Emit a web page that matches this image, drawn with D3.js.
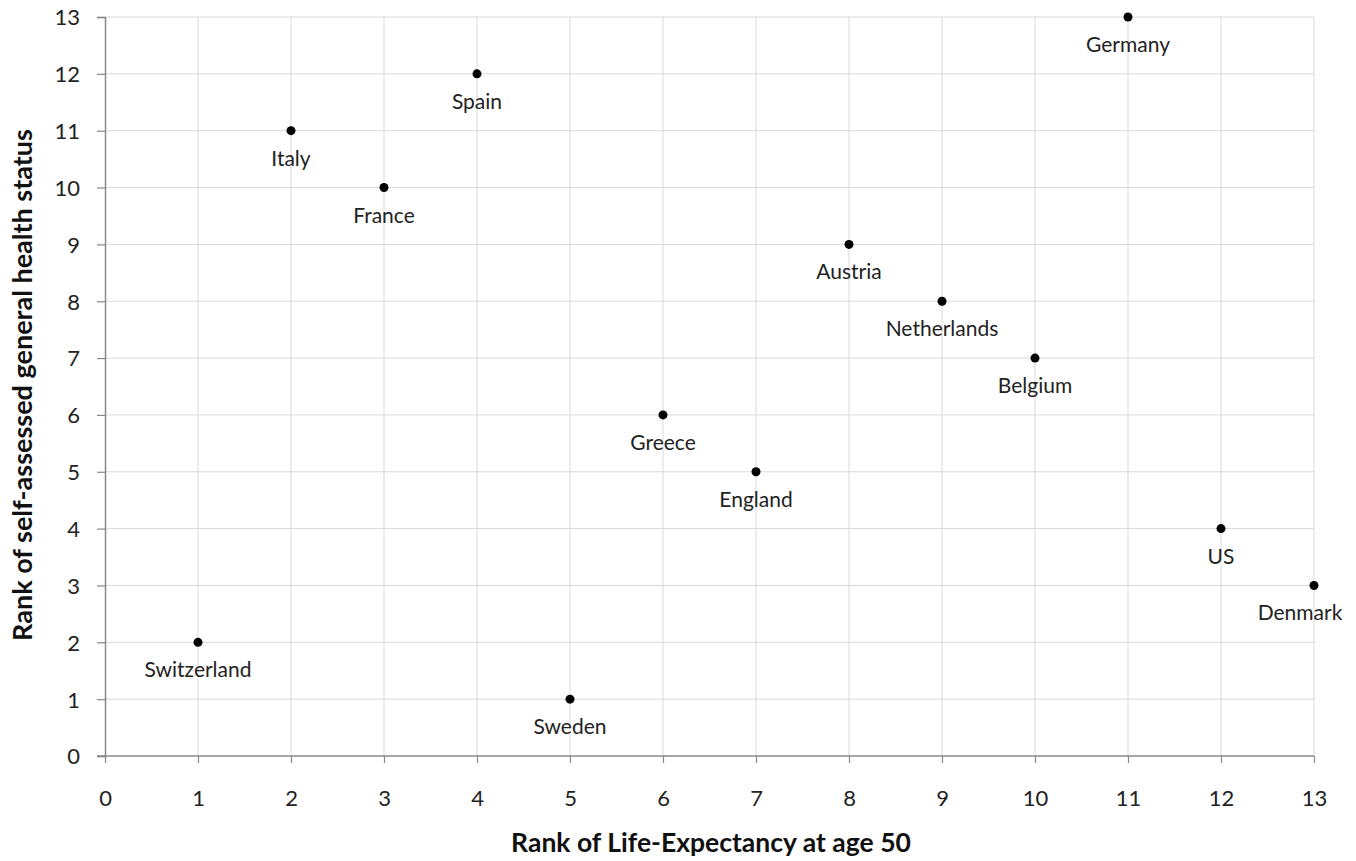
<!DOCTYPE html>
<html><head><meta charset="utf-8">
<script src="https://cdn.jsdelivr.net/npm/d3@7"></script>
<style>body{margin:0;background:#fff;} svg{display:block;}</style>
</head><body>
<svg id="c" width="1356" height="861"></svg>
<script>
const countries = ["Switzerland","Italy","France","Spain","Sweden","Greece","England","Austria","Netherlands","Belgium","Germany","US","Denmark"];
const lifeExpRank = [1,2,3,4,5,6,7,8,9,10,11,12,13];
const healthRank = [2,11,10,12,1,6,5,9,8,7,13,4,3];
const labelShift = [0,0,0,0,0,0,0,0,0,0,0,0,-14];
const ticks = d3.range(0,14);
const xTitle = "Rank of Life-Expectancy at age 50";
const yTitle = "Rank of self-assessed general health status";

const svg = d3.select("#c");
const font = "Lato, 'Open Sans', sans-serif";
const m = {l:105, r:1314, t:17, b:756};
const x = d3.scaleLinear().domain([0,13]).range([m.l,m.r]);
const y = d3.scaleLinear().domain([0,13]).range([m.b,m.t]);

// gridlines
svg.append("g").selectAll("line").data(ticks.filter(d=>d>0)).join("line")
  .attr("x1",d=>x(d)).attr("x2",d=>x(d)).attr("y1",m.t).attr("y2",m.b)
  .attr("stroke","#d9d9d9").attr("stroke-width",1);
svg.append("g").selectAll("line").data(ticks.filter(d=>d>0)).join("line")
  .attr("y1",d=>y(d)).attr("y2",d=>y(d)).attr("x1",m.l).attr("x2",m.r)
  .attr("stroke","#d9d9d9").attr("stroke-width",1);

// axes
const xAxis = d3.axisBottom(x).tickValues(ticks).tickSize(7).tickFormat(d3.format("d"));
const yAxis = d3.axisLeft(y).tickValues(ticks).tickSize(8).tickPadding(17).tickFormat(d3.format("d"));
const gx = svg.append("g").attr("transform",`translate(0,${m.b})`).call(xAxis);
const gy = svg.append("g").attr("transform",`translate(${m.l},0)`).call(yAxis);
[gx,gy].forEach(g=>{
  g.select(".domain").attr("stroke","#888").attr("stroke-width",1.5);
  g.selectAll(".tick line").attr("stroke","#888").attr("stroke-width",1.2);
  g.selectAll(".tick text").attr("fill","#222").style("font-family",font).style("font-size","22px");
});
gx.selectAll(".tick text").attr("y",50).attr("dy",0);
gy.selectAll(".tick text").attr("dy","0.36em");
gx.select(".domain").attr("d",`M${m.l-8},0H${m.r}`);

// titles
svg.append("text").attr("x",711).attr("y",852).attr("text-anchor","middle")
  .style("font-family",font).style("font-weight","bold").style("font-size","26.5px").attr("fill","#111").text(xTitle);
svg.append("text").attr("transform",`translate(32,385) rotate(-90)`).attr("text-anchor","middle")
  .style("font-family",font).style("font-weight","bold").style("font-size","27px").attr("fill","#111").text(yTitle);

// points
const data = countries.map((c,i)=>({c, xv:lifeExpRank[i], yv:healthRank[i], s:labelShift[i]}));
svg.append("g").selectAll("circle").data(data).join("circle")
  .attr("cx",d=>x(d.xv)).attr("cy",d=>y(d.yv)).attr("r",4.5).attr("fill","#000");
svg.append("g").selectAll("text").data(data).join("text")
  .attr("x",d=>x(d.xv)+d.s).attr("y",d=>y(d.yv)+35).attr("text-anchor","middle")
  .style("font-family",font).style("font-size","21px").attr("fill","#222").text(d=>d.c);
</script>
</body></html>
